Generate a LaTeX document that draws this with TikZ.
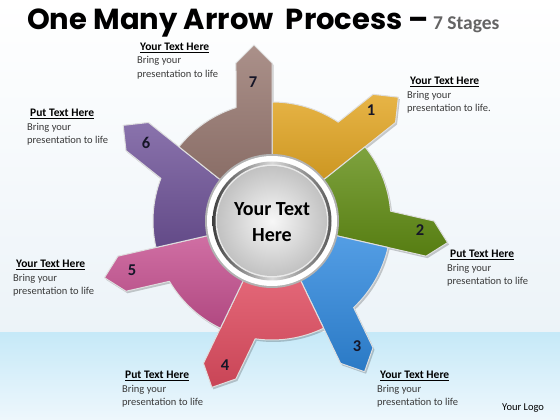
\documentclass[tikz,border=0pt]{standalone}
\usepackage{fontspec}
\setmainfont{Carlito}
\newfontfamily\titlefont{Poppins}
\definecolor{c7}{RGB}{152,120,112}
\definecolor{c1}{RGB}{226,164,30}
\definecolor{c2}{RGB}{98,142,20}
\definecolor{c3}{RGB}{48,138,224}
\definecolor{c4}{RGB}{228,78,98}
\definecolor{c5}{RGB}{200,82,146}
\definecolor{c6}{RGB}{112,84,154}
\definecolor{numc}{RGB}{22,22,40}
\definecolor{bodyc}{RGB}{58,58,58}
\definecolor{titlegray}{RGB}{100,100,100}
\definecolor{bandtop}{RGB}{198,233,248}
\definecolor{bandbot}{RGB}{238,247,252}
\definecolor{upbot}{RGB}{236,243,248}
\tikzset{
  segp/.style={insert path={({#1+90}:40) -- ({#1+90}:158) -- ({#1+95.84}:176.9) -- ({#1+102.84}:162.05) -- ({#1+107.6}:119) arc[start angle={#1+107.6}, end angle={#1+141.43}, radius=119] -- ({#1+141.43}:40) arc[start angle={#1+141.43}, end angle={#1+90}, radius=40] -- cycle}},
  seg/.style={draw=white!75!gray, line width=1pt, line join=round},
  segshadow/.style={fill=black, opacity=0.2},
  num/.style={font=\fontsize{16.5}{16.5}\selectfont\bfseries, text=numc, inner sep=0},
  head/.style={font=\fontsize{11.5}{13}\selectfont\bfseries, anchor=base west, inner sep=0, text=black},
  body/.style={font=\fontsize{10.5}{13}\selectfont, anchor=base west, inner sep=0, text=bodyc},
}
\newcommand\lbl[5]{% name, x, baseline y (pixel), heading, last line
  \node[head] (#1h) at (#2+3,420-#3) {\underline{#4}};
  \node[body] (#1a) at (#2,420-#3-13.5) {Bring your};
  \node[body] (#1b) at (#2,420-#3-27) {#5};
}
\begin{document}
\begin{tikzpicture}[x=1pt,y=1pt]
\useasboundingbox (0,0) rectangle (560,420);
% background
\fill[top color=white, bottom color=upbot] (0,87) rectangle (560,420);
\fill[top color=bandtop, bottom color=bandbot] (0,0) rectangle (560,87);
% title
\node[anchor=base west, inner sep=0] (title) at (27,390)
  {{\titlefont\bfseries\fontsize{29}{30}\selectfont One Many Arrow\ \ Process –}\hspace{4pt}{\color{titlegray}\bfseries\fontsize{19.5}{20}\selectfont 7 Stages}};
% wheel
\begin{scope}[shift={(272,199)}]
  \foreach \k in {1,...,7}{
    \pgfmathsetmacro\o{-51.4286*\k}
    \fill[segshadow, shift={(1.5,-2)}, segp=\o];
  }
  \foreach \k/\c in {1/c1,2/c2,3/c3,4/c4,5/c5,6/c6,7/c7}{
    \pgfmathsetmacro\o{-51.4286*\k}
    \draw[seg, top color=\c!82!white, bottom color=\c!88!black, segp=\o];
  }
  \fill[black!30] (0,0) circle (67);
  \fill[white] (0,0) circle (65);
  \shade[left color=black!75, right color=black!65, middle color=white!85!black] (0,0) circle (59.5);
  \fill[white!92!black] (0,0) circle (56.5);
  \shade[inner color=white!97!black, outer color=black!24] (0,0) circle (55);
  \node[font=\fontsize{20}{26}\selectfont\bfseries, align=center, text=black] (hub) at (0,-1) {Your Text\\Here};
\end{scope}
% numbers
\node[num] (n7) at (253,338) {7};
\node[num] (n1) at (371,310) {1};
\node[num] (n2) at (420,190) {2};
\node[num] (n3) at (357,74) {3};
\node[num] (n4) at (225,55) {4};
\node[num] (n5) at (132,150) {5};
\node[num] (n6) at (146,277) {6};
% labels
\lbl{l7}{137}{50.5}{Your Text Here}{presentation to life}
\lbl{l1}{407}{85}{Your Text Here}{presentation to life.}
\lbl{l6}{27}{117}{Put Text Here}{presentation to life}
\lbl{l2}{447}{258}{Put Text Here}{presentation to life}
\lbl{l5}{13}{268}{Your Text Here}{presentation to life}
\lbl{l4}{122}{379}{Put Text Here}{presentation to life}
\lbl{l3}{377}{379}{Your Text Here}{presentation to life}
\node[body, text=black] (logo) at (502,9.3) {Your Logo};
\end{tikzpicture}
\end{document}
